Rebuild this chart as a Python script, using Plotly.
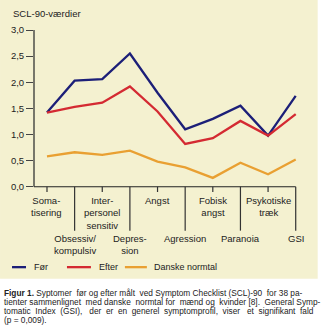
import plotly.graph_objects as go

categories = ["Somatisering", "Obsessiv/kompulsiv", "Interpersonel sensitiv", "Depression",
              "Angst", "Agression", "Fobisk angst", "Paranoia", "Psykotiske træk", "GSI"]
cat_labels = ["Soma-<br>tisering", "Obsessiv/<br>kompulsiv", "Inter-<br>personel<br>sensitiv",
              "Depres-<br>sion", "Angst", "Agression", "Fobisk<br>angst", "Paranoia",
              "Psykotiske<br>træk", "GSI"]
label_row = ["upper", "lower", "upper", "lower", "upper", "lower", "upper", "lower", "upper", "lower"]

foer = [1.42, 2.03, 2.06, 2.55, 1.80, 1.10, 1.30, 1.55, 0.98, 1.74]
efter = [1.42, 1.53, 1.61, 1.92, 1.44, 0.82, 0.93, 1.26, 0.98, 1.39]
normtal = [0.58, 0.66, 0.61, 0.69, 0.48, 0.37, 0.17, 0.46, 0.24, 0.52]

series_names = ["Før", "Efter", "Danske normtal"]
colors = ["#1c1f78", "#d42a32", "#e9a032"]

ytick_vals = [0, 0.5, 1.0, 1.5, 2.0, 2.5, 3.0]
ytick_text = ["0,0", "0,5", "1,0", "1,5", "2,0", "2,5", "3,0"]

caption_lines = [
    "<b>Figur 1.</b> Syptomer før og efter målt ved Symptom Checklist (SCL)-90 for 38 pa-",
    "tienter sammenlignet med danske normtal for mænd og kvinder [8]. General Symp-",
    "tomatic Index (GSI), der er en generel symptomprofil, viser et signifikant fald",
    "(p = 0,009).",
]
# extra non-breaking spaces per line to mimic justified text
caption_extra = [3, 5, 13, 0]

W, H = 322, 334
L, R, T, B = 34, 17.7, 30, 94.7
XR = [-0.47, 9.3]
YR = [-1.0, 3.0]
pw, ph = W - L - R, H - T - B

def px(x):
    return (x - L) / pw

def py(y):
    return 1 - (y - T) / ph

def xpaper(i):
    return (i - XR[0]) / (XR[1] - XR[0])

def justify(line, extra):
    if extra <= 0:
        return line
    parts = line.split(" ")
    gaps = len(parts) - 1
    out = parts[0]
    acc = 0.0
    for g in range(gaps):
        acc_new = (g + 1) * extra / gaps
        n = int(round(acc_new)) - int(round(acc))
        acc = acc_new
        out += " " + "&nbsp;" * n + parts[g + 1]
    return out

FONT = "Liberation Sans, Arial, sans-serif"
x_idx = list(range(len(categories)))

fig = go.Figure()
for name, vals, c in zip(series_names, [foer, efter, normtal], colors):
    fig.add_trace(go.Scatter(x=x_idx, y=vals, mode="lines", name=name,
                             line=dict(color=c, width=2.3), showlegend=False))

shapes = []
# beige background
shapes.append(dict(type="rect", xref="paper", yref="paper", x0=px(0), x1=px(318),
                   y0=py(279), y1=py(0), fillcolor="#f4f1d0", line_width=0, layer="below"))
# y axis line
shapes.append(dict(type="line", xref="paper", yref="y", x0=0, x1=0, y0=0, y1=3,
                   line=dict(color="#77776a", width=2)))
# x axis line
shapes.append(dict(type="line", xref="paper", yref="y", x0=0, x1=xpaper(9), y0=0, y1=0,
                   line=dict(color="#222222", width=1.2)))
annotations = []
for i, (lab, row) in enumerate(zip(cat_labels, label_row)):
    if row == "upper":
        shapes.append(dict(type="line", xref="x", yref="y", x0=i, x1=i, y0=0, y1=-0.1,
                           line=dict(color="#333333", width=1.2)))
        annotations.append(dict(x=i, y=-0.12, xref="x", yref="y", text=lab, showarrow=False,
                                xanchor="center", yanchor="top",
                                font=dict(size=9.5, color="#222222", family=FONT)))
    else:
        shapes.append(dict(type="line", xref="x", yref="y", x0=i, x1=i, y0=0, y1=-0.84,
                           line=dict(color="#333333", width=1.2)))
        annotations.append(dict(x=i, y=-0.85, xref="x", yref="y", text=lab, showarrow=False,
                                xanchor="center", yanchor="top",
                                font=dict(size=9.5, color="#222222", family=FONT)))

# y-axis title
annotations.append(dict(x=px(11), y=py(13.5), xref="paper", yref="paper", text="SCL-90-værdier",
                        showarrow=False, xanchor="left", yanchor="middle",
                        font=dict(size=9.5, color="#222222", family=FONT)))

# legend
leg = [(12, 26, 32), (67, 91, 97), (125, 147, 152)]
for (a, b, t), name, c in zip(leg, series_names, colors):
    shapes.append(dict(type="line", xref="paper", yref="paper", x0=px(a), x1=px(b),
                       y0=py(267.5), y1=py(267.5), line=dict(color=c, width=2.3)))
    annotations.append(dict(x=px(t), y=py(267.5), xref="paper", yref="paper", text=name,
                            showarrow=False, xanchor="left", yanchor="middle",
                            font=dict(size=9, color="#222222", family=FONT)))

# caption
for k, (line, ex) in enumerate(zip(caption_lines, caption_extra)):
    annotations.append(dict(x=px(2), y=py(293 + 9 * k), xref="paper", yref="paper",
                            text=justify(line, ex),
                            showarrow=False, xanchor="left", yanchor="middle",
                            font=dict(size=8.3, color="#222222", family=FONT)))

fig.update_layout(
    width=W, height=H,
    margin=dict(l=L, r=R, t=T, b=B, pad=0),
    paper_bgcolor="white", plot_bgcolor="rgba(0,0,0,0)",
    shapes=shapes, annotations=annotations,
    xaxis=dict(range=XR, showgrid=False, zeroline=False, showline=False,
               showticklabels=False, ticks=""),
    yaxis=dict(range=YR, showgrid=False, zeroline=False, showline=False,
               tickmode="array", tickvals=ytick_vals, ticktext=ytick_text,
               ticks="outside", ticklen=7, tickwidth=1.2, tickcolor="#444444",
               tickfont=dict(size=9.5, color="#222222", family=FONT)),
    showlegend=False,
)
fig.write_html("out.html")
